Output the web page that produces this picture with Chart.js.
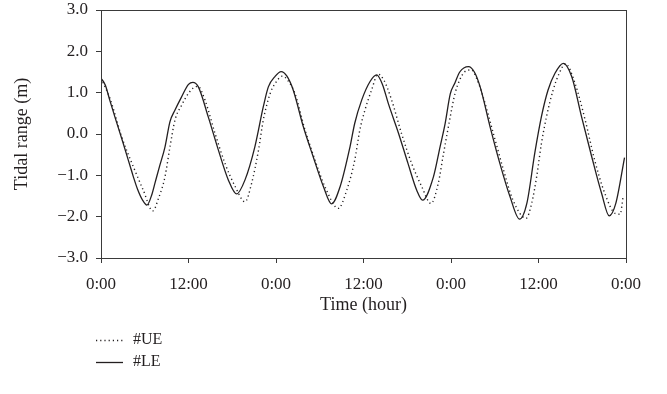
<!DOCTYPE html>
<html>
<head>
<meta charset="utf-8">
<script src="https://cdn.jsdelivr.net/npm/chart.js@4/dist/chart.umd.min.js"></script>
<style>
html,body{margin:0;padding:0;background:#fff;}
#wrap{position:relative;width:667px;height:394px;}
</style>
</head>
<body>
<div id="wrap"><canvas id="c" width="667" height="394"></canvas></div>
<script>
// ---- data ----
const xTickHours = [0, 12, 24, 36, 48, 60, 72];
const xTickLabels = ["0:00", "12:00", "0:00", "12:00", "0:00", "12:00", "0:00"];
const seriesNames = ["#UE", "#LE"];

const ueTime = [0, 1.23, 2.84, 4.43, 5.8, 7.09, 7.9, 8.78, 9.46, 10.15, 11.07, 11.98, 12.9, 13.3, 14.26, 15.63, 17.0, 18.4, 19.75, 20.66, 21.6, 22.26, 23.2, 23.8, 24.9, 25.6, 26.6, 27.98, 29.35, 30.7, 32.55, 33.7, 34.8, 35.5, 36.2, 37.1, 38.0, 38.8, 39.86, 41.2, 42.6, 43.98, 45.25, 46.26, 46.9, 47.9, 48.55, 49.2, 49.9, 50.8, 51.5, 52.4, 53.8, 55.2, 56.5, 58.3, 59.06, 59.75, 60.4, 61.1, 62.0, 62.85, 63.7, 65.0, 66.4, 67.7, 69.1, 70.5, 71.2, 71.6];
const ueValue = [1.35, 0.86, -0.07, -0.79, -1.36, -1.86, -1.55, -1.03, -0.31, 0.34, 0.70, 0.98, 1.14, 1.15, 0.82, 0.02, -0.71, -1.27, -1.64, -1.19, -0.39, 0.34, 0.98, 1.2, 1.40, 1.3, 0.98, 0.1, -0.63, -1.27, -1.8, -1.36, -0.63, 0.1, 0.58, 1.06, 1.45, 1.3, 0.82, 0.02, -0.71, -1.27, -1.68, -1.19, -0.55, 0.42, 0.98, 1.31, 1.51, 1.55, 1.35, 0.9, 0.02, -0.87, -1.6, -2.04, -1.68, -1.03, -0.23, 0.42, 1.06, 1.47, 1.70, 1.23, 0.34, -0.63, -1.44, -1.92, -1.94, -1.52];

const leTime = [0, 0.6, 1.2, 2, 3, 4, 4.43, 5, 5.7, 6.3, 7.0, 7.4, 8.0, 8.78, 9.46, 10.15, 11.0, 12.0, 12.6, 13.35, 14.7, 16.1, 17.46, 18.6, 19.75, 21.1, 22.26, 22.95, 23.86, 24.7, 25.5, 26.37, 27.74, 29.1, 30.5, 31.63, 32.8, 34.15, 34.8, 35.75, 36.9, 37.8, 38.6, 39.4, 40.8, 42.1, 43.3, 44.1, 45.6, 46.5, 47.2, 47.9, 48.55, 49.2, 50.4, 51.2, 52.0, 53.35, 54.7, 56.1, 57.4, 58.4, 59.5, 60.4, 61.3, 62.26, 63.4, 64.55, 65.9, 67.3, 68.66, 69.7, 70.6, 71.8];
const leValue = [1.35, 1.18, 0.82, 0.36, -0.2, -0.78, -1.03, -1.33, -1.6, -1.72, -1.45, -1.19, -0.8, -0.31, 0.30, 0.58, 0.88, 1.2, 1.25, 1.14, 0.42, -0.39, -1.11, -1.45, -1.11, -0.31, 0.66, 1.14, 1.39, 1.51, 1.4, 1.06, 0.18, -0.55, -1.27, -1.69, -1.27, -0.31, 0.26, 0.82, 1.27, 1.43, 1.2, 0.74, 0.02, -0.71, -1.36, -1.6, -1.03, -0.31, 0.26, 0.97, 1.24, 1.5, 1.63, 1.5, 1.14, 0.18, -0.71, -1.52, -2.06, -1.68, -0.45, 0.42, 1.06, 1.47, 1.71, 1.39, 0.42, -0.55, -1.44, -1.98, -1.68, -0.57];

// ---- chart ----
const toXY = (ts, vs) => ts.map((t, i) => ({x: t, y: vs[i]}));
const FONT = "'Liberation Serif', 'DejaVu Serif', serif";
const INK = '#231f20';

const frame = {
  id: 'frame',
  afterDatasetsDraw(chart) {
    const {ctx, chartArea: a} = chart;
    ctx.save();
    ctx.strokeStyle = '#3a3a3a';
    ctx.lineWidth = 1;
    ctx.strokeRect(Math.round(a.left) + 0.5, Math.round(a.top) + 0.5, Math.round(a.right - a.left), Math.round(a.bottom - a.top));
    ctx.restore();
  },
  afterDraw(chart) {
    const {ctx} = chart;
    ctx.save();
    ctx.font = "16px " + FONT;
    ctx.fillStyle = INK;
    ctx.textBaseline = 'middle';
    chart.data.datasets.forEach((ds, i) => {
      const y = 340 + i * 22;
      ctx.strokeStyle = ds.borderColor;
      ctx.lineWidth = ds.borderWidth;
      ctx.setLineDash(ds.borderDash || []);
      ctx.beginPath();
      ctx.moveTo(96, y + 0.5);
      ctx.lineTo(123, y + 0.5);
      ctx.stroke();
      ctx.setLineDash([]);
      ctx.fillText(ds.label, 133, y);
    });
    ctx.restore();
  }
};

new Chart(document.getElementById('c'), {
  type: 'line',
  data: {
    datasets: [
      {label: seriesNames[0], data: toXY(ueTime, ueValue), borderColor: INK, borderWidth: 1.4, borderDash: [1.2, 3], pointRadius: 0, cubicInterpolationMode: 'monotone', fill: false},
      {label: seriesNames[1], data: toXY(leTime, leValue), borderColor: INK, borderWidth: 1.3, pointRadius: 0, cubicInterpolationMode: 'monotone', fill: false}
    ]
  },
  options: {
    responsive: false,
    animation: false,
    events: [],
    layout: {padding: {top: 10, right: 41, left: 7, bottom: 74}},
    plugins: {legend: {display: false}, tooltip: {enabled: false}},
    scales: {
      x: {
        type: 'linear', min: 0, max: 72,
        afterBuildTicks: s => { s.ticks = xTickHours.map(v => ({value: v})); },
        afterFit: s => { s.height = 62; s.paddingLeft = 0; s.paddingRight = 0; },
        grid: {drawOnChartArea: false, tickLength: 5, color: '#3a3a3a'},
        border: {display: true, color: '#3a3a3a'},
        ticks: {
          color: INK, font: {family: FONT, size: 17}, padding: 11, maxRotation: 0,
          callback: (v) => { const i = xTickHours.indexOf(v); return i >= 0 ? xTickLabels[i] : ''; }
        },
        title: {display: true, text: 'Time (hour)', color: INK, font: {family: FONT, size: 18}, padding: {top: 5}}
      },
      y: {
        min: -3, max: 3,
        afterFit: s => { s.width = 94; s.paddingTop = 0; s.paddingBottom = 0; },
        grid: {drawOnChartArea: false, tickLength: 5, color: '#3a3a3a'},
        border: {display: true, color: '#3a3a3a'},
        ticks: {
          stepSize: 1, color: INK, font: {family: FONT, size: 17}, padding: 8,
          callback: v => (v < 0 ? '\u2212' : '') + Math.abs(v).toFixed(1)
        },
        title: {display: true, text: 'Tidal range (m)', color: INK, font: {family: FONT, size: 18}, padding: {bottom: 4}}
      }
    }
  },
  plugins: [frame]
});
</script>
</body>
</html>
